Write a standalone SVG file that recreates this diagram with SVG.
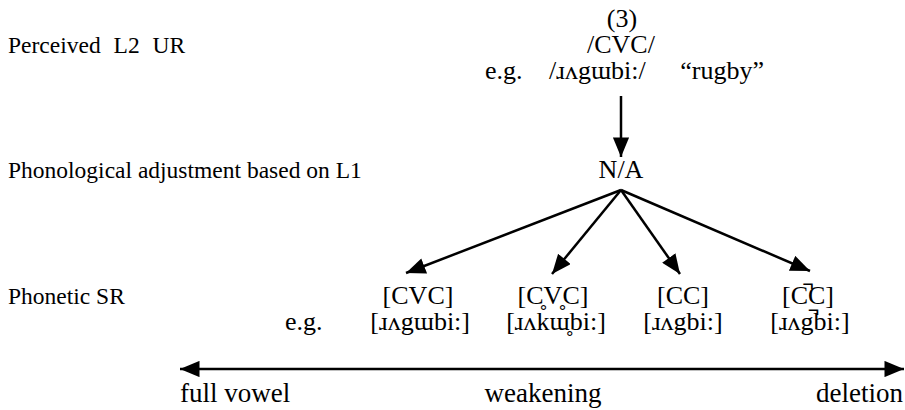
<svg xmlns="http://www.w3.org/2000/svg" width="905" height="410" viewBox="0 0 905 410">
<style>
text{font-family:"Liberation Serif","Times New Roman",serif;font-size:26px;fill:#000}
.l{font-size:23.5px}
.b{font-size:27px}
.m{text-anchor:middle}
.e{text-anchor:end}
.c{stroke:#000;stroke-width:2.5;fill:none}
</style>
<defs>
<marker id="ah" viewBox="0 0 12 10" refX="12" refY="5" markerWidth="8" markerHeight="6.5" orient="auto-start-reverse" markerUnits="strokeWidth"><path d="M0,0 L12,5 L0,10 z" fill="#000"/></marker>
</defs>
<g id="labels">
<text class="l" x="8" y="53" word-spacing="7">Perceived L2 UR</text>
<text class="l" x="8" y="178">Phonological adjustment based on L1</text>
<text class="l" x="8" y="304">Phonetic SR</text>
</g>
<g id="ur">
<text class="m" x="622" y="27">(3)</text>
<text class="m" x="621" y="53">/CVC/</text>
<text x="485" y="79">e.g.</text>
<text x="549" y="79">/ɹʌgɯbi:/</text>
<text class="e" x="764" y="79">“rugby”</text>
</g>
<g id="na"><text class="m" x="621" y="178">N/A</text></g>
<g id="sr1"><text class="m" x="418" y="304">[CVC]</text><text x="285" y="330">e.g.</text><text class="e" x="470" y="330">[ɹʌgɯbi:]</text></g>
<g id="sr2"><text class="m" x="553" y="304">[C̥V̥C]</text><text class="m" x="556" y="330">[ɹʌkɯ̥bi:]</text></g>
<g id="sr3"><text class="m" x="683" y="304">[CC]</text><text class="m" x="683" y="330">[ɹʌgbi:]</text></g>
<g id="sr4"><text class="m" x="808" y="304">[C̚C]</text><text class="m" x="810" y="330">[ɹʌg̚bi:]</text></g>
<g id="scale">
<text class="b" x="180" y="402">full vowel</text>
<text class="b m" x="543" y="402">weakening</text>
<text class="b e" x="903" y="402">deletion</text>
</g>
<g id="connectors">
<line class="c" x1="621" y1="96" x2="621" y2="157" marker-end="url(#ah)"/>
<line class="c" x1="621" y1="190" x2="406" y2="273" marker-end="url(#ah)"/>
<line class="c" x1="621" y1="190" x2="552" y2="274" marker-end="url(#ah)"/>
<line class="c" x1="621" y1="190" x2="680" y2="274" marker-end="url(#ah)"/>
<line class="c" x1="621" y1="190" x2="810" y2="271" marker-end="url(#ah)"/>
<line class="c" x1="180" y1="369" x2="904" y2="369" marker-start="url(#ah)" marker-end="url(#ah)"/>
</g>
</svg>
